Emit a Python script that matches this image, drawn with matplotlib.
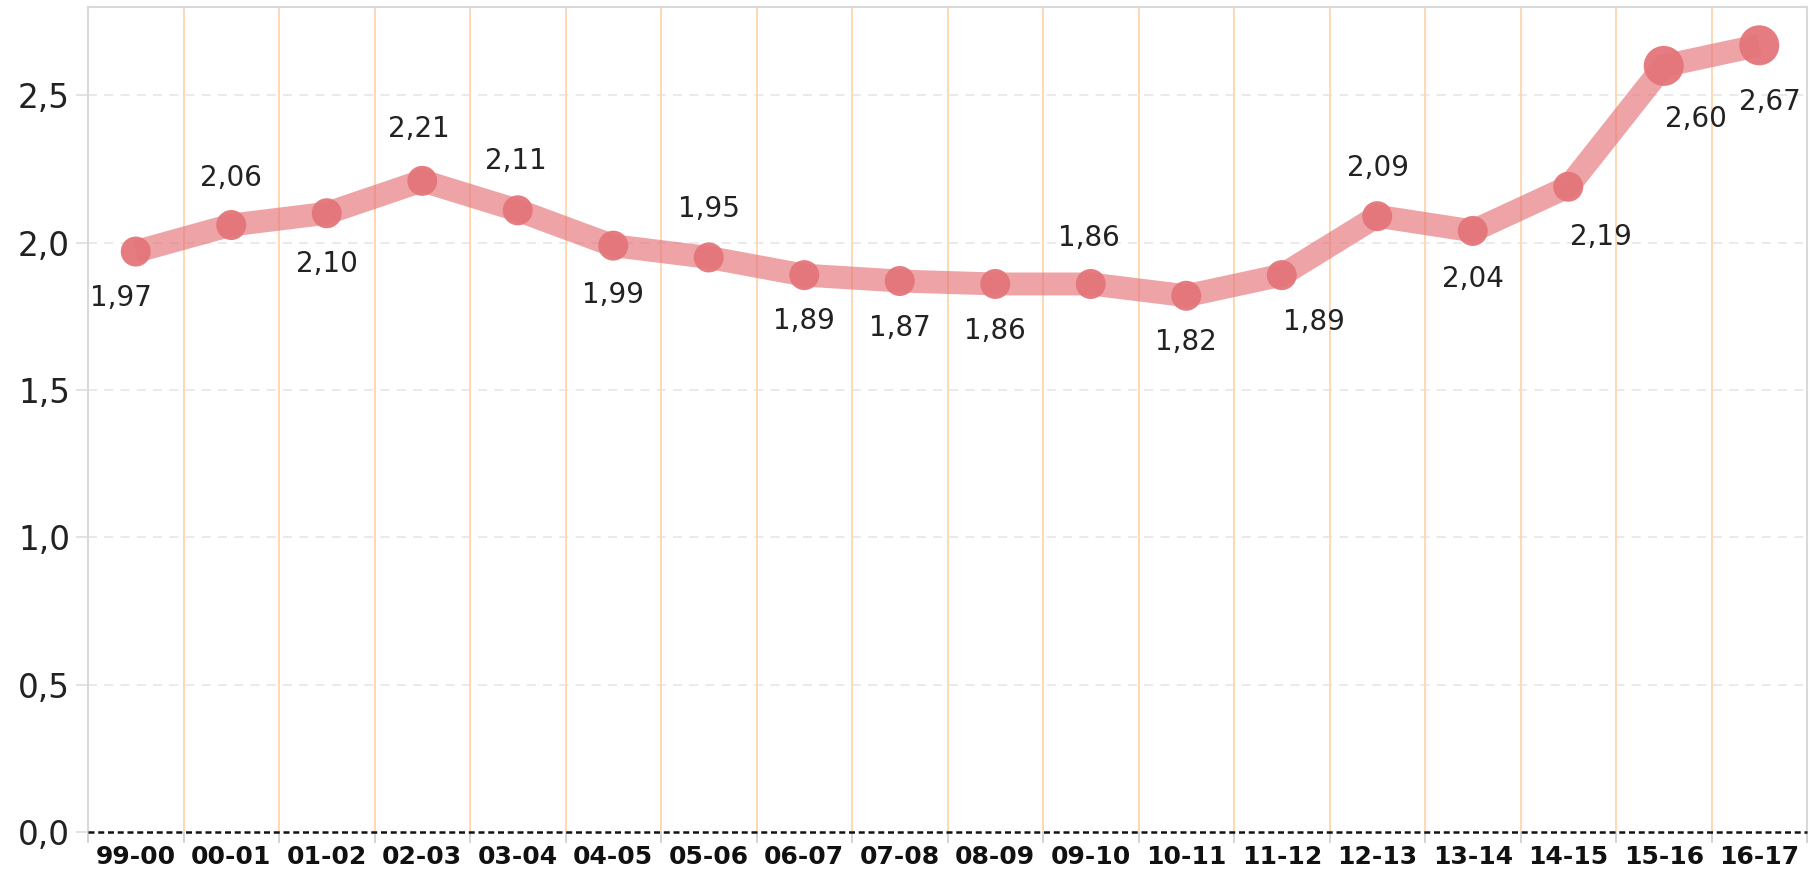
#!/usr/bin/env python3
import matplotlib.pyplot as plt
import numpy as np

seasons = ['99-00', '00-01', '01-02', '02-03', '03-04', '04-05', '05-06', '06-07', '07-08',
           '08-09', '09-10', '10-11', '11-12', '12-13', '13-14', '14-15', '15-16', '16-17']
values = [1.97, 2.06, 2.10, 2.21, 2.11, 1.99, 1.95, 1.89, 1.87,
          1.86, 1.86, 1.82, 1.89, 2.09, 2.04, 2.19, 2.60, 2.67]
y_ticks = [0.0, 0.5, 1.0, 1.5, 2.0, 2.5]

# label offsets in pixels (dx, dy) relative to each point
label_offsets = [(-15, -46), (0, 47), (0, -51), (-3, 52), (-2, 49), (0, -49), (0, 48), (0, -46), (0, -47),
                 (0, -47), (-2, 46), (0, -46), (32, -47), (1, 48), (0, -48), (33, -50), (32, -53), (11, -57)]
marker_px = [30] * 16 + [40, 40]


def fmt(v, nd):
    return f'{v:.{nd}f}'.replace('.', ',')


def main():
    W, H, dpi = 1817, 872, 100
    fig = plt.figure(figsize=(W / dpi, H / dpi), dpi=dpi)
    ax = fig.add_axes([88 / W, 1 - 832 / H, (1807 - 88) / W, (832 - 7) / H])

    x = np.arange(len(seasons))

    # vertical orange separators between categories
    for b in x[:-1] + 0.5:
        ax.axvline(b, color='#FDD8B4', lw=1.4, zorder=1)

    # horizontal grid
    for t in y_ticks[1:]:
        ax.axhline(t, color='#E8E8E8', lw=1.3, ls=(0, (5, 4)), zorder=0.5)
    ax.axhline(0, color='#111111', lw=1.8, ls=(0, (2.4, 1.5)), zorder=3, clip_on=False)

    ax.plot(x, values, color='#E57378', lw=16.5, alpha=0.65, solid_joinstyle='miter',
            solid_capstyle='butt', zorder=4)
    sizes = [(s / (dpi / 72)) ** 2 for s in marker_px]
    ax.scatter(x, values, s=sizes, color='#E4757A', alpha=0.95, edgecolors='none', zorder=5)

    for xi, v, (dx, dy) in zip(x, values, label_offsets):
        ax.annotate(fmt(v, 2), (xi, v), xytext=(dx, dy), textcoords='offset pixels',
                    ha='center', va='center', fontsize=20, color='#222222', zorder=6)

    ax.set_xlim(-0.5, len(seasons) - 0.5)
    ax.set_ylim(0, 2.8)

    ax.set_xticks(x)
    ax.set_xticklabels(seasons, fontsize=18, fontweight='bold', color='#111111')
    ax.set_xticks(np.arange(-0.5, len(seasons)), minor=True)
    ax.tick_params(axis='x', which='major', length=0, pad=9)
    ax.tick_params(axis='x', which='minor', length=8, width=1.3, color='#D0D0D0')

    ax.set_yticks(y_ticks)
    ax.set_yticklabels([fmt(t, 1) for t in y_ticks], fontsize=23.5, color='#222222')
    ax.tick_params(axis='y', length=9, width=1.3, color='#E0E0E0', pad=4)

    for side in ['left', 'top', 'right']:
        ax.spines[side].set_color('#D9D9D9')
        ax.spines[side].set_linewidth(1.5)
    ax.spines['bottom'].set_visible(False)

    plt.savefig('out.png', dpi=dpi)


if __name__ == '__main__':
    main()
